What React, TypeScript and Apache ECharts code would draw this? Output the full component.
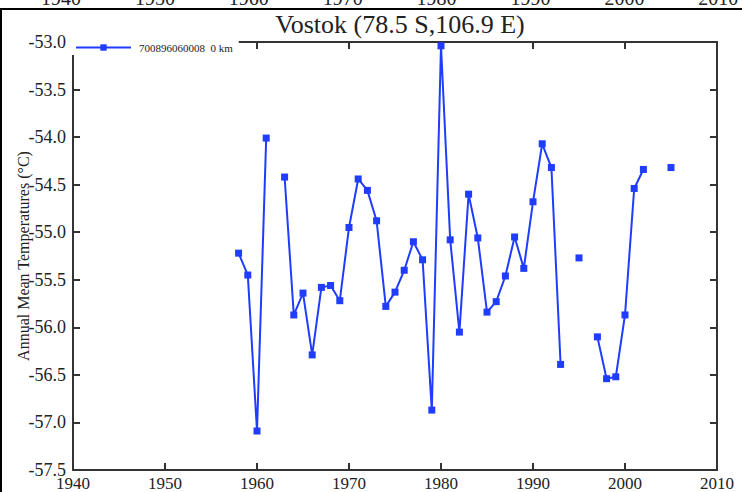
import React, { useEffect, useRef } from "react";
import * as echarts from "echarts";

const seriesName = "700896060008  0 km";
const years = [
  1958, 1959, 1960, 1961, 1962, 1963, 1964, 1965, 1966, 1967, 1968, 1969,
  1970, 1971, 1972, 1973, 1974, 1975, 1976, 1977, 1978, 1979, 1980, 1981,
  1982, 1983, 1984, 1985, 1986, 1987, 1988, 1989, 1990, 1991, 1992, 1993,
  1994, 1995, 1996, 1997, 1998, 1999, 2000, 2001, 2002, 2003, 2004, 2005,
];
const temperatures: (number | null)[] = [
  -55.22, -55.45, -57.09, -54.01, null, -54.42, -55.87, -55.64, -56.29, -55.58, -55.56, -55.72,
  -54.95, -54.44, -54.56, -54.88, -55.78, -55.63, -55.4, -55.1, -55.29, -56.87, -53.04, -55.08,
  -56.05, -54.6, -55.06, -55.84, -55.73, -55.46, -55.05, -55.38, -54.68, -54.07, -54.32, -56.39,
  null, -55.27, null, -56.1, -56.54, -56.52, -55.87, -54.54, -54.34, null, null, -54.32,
];
const topTickLabels = ["1940", "1950", "1960", "1970", "1980", "1990", "2000", "2010"];

const FONT = "Liberation Serif";
const AXIS = "#333333";
const BLUE = "#1f3cff";

export default function App() {
  const ref = useRef<HTMLDivElement>(null);
  useEffect(() => {
    if (!ref.current) return;
    const chart = echarts.init(ref.current, null, { renderer: "svg" });
    const data = years.map((y, i) => [y, temperatures[i] === null ? "-" : temperatures[i]]);
    const axisCommon = {
      axisLine: { show: true, lineStyle: { color: AXIS, width: 2 } },
      axisTick: { show: true, inside: true, length: 7, lineStyle: { color: AXIS, width: 2 } },
      splitLine: { show: false },
    };
    chart.setOption({
      animation: false,
      backgroundColor: "#ffffff",
      title: {
        text: "Vostok (78.5 S,106.9 E)",
        left: 395,
        top: 6,
        textAlign: "center",
        textStyle: { fontFamily: FONT, fontSize: 26, fontWeight: "normal", color: "#222" },
      },
      legend: {
        left: 72,
        top: 40,
        padding: [2, 6, 2, 3],
        backgroundColor: "#ffffff",
        itemWidth: 55,
        itemHeight: 8,
        itemGap: 8,
        textStyle: { fontFamily: FONT, fontSize: 11, color: "#222", padding: [0, 0, 0, 3] },
        data: [seriesName],
        z: 10,
      },
      grid: {
        left: 73,
        right: 25,
        top: 42,
        bottom: 22,
        containLabel: false,
        outerBoundsMode: "none",
      },
      xAxis: [
        {
          type: "value",
          min: 1940,
          max: 2010,
          interval: 10,
          position: "bottom",
          ...axisCommon,
          axisLabel: {
            fontFamily: FONT,
            fontSize: 17,
            color: "#222",
            margin: 5,
            formatter: (v: number) => String(v),
          },
        },
        {
          type: "value",
          min: 1940,
          max: 2010,
          interval: 10,
          position: "top",
          ...axisCommon,
          axisLabel: { show: false },
        },
      ],
      yAxis: [
        {
          type: "value",
          min: -57.5,
          max: -53,
          interval: 0.5,
          position: "left",
          ...axisCommon,
          axisLabel: {
            fontFamily: FONT,
            fontSize: 18,
            color: "#222",
            margin: 7,
            formatter: (v: number) => v.toFixed(1),
          },
          name: "Annual Mean Temperatures (°C)",
          nameLocation: "middle",
          nameGap: 42,
          nameMoveOverlap: false,
          nameTextStyle: { fontFamily: FONT, fontSize: 16, color: "#222" },
        },
        {
          type: "value",
          min: -57.5,
          max: -53,
          interval: 0.5,
          position: "right",
          ...axisCommon,
          axisLabel: { show: false },
        },
      ],
      graphic: [
        { type: "line", shape: { x1: 0, y1: 9, x2: 742, y2: 9 }, style: { stroke: "#000", lineWidth: 2 } },
        { type: "line", shape: { x1: 1, y1: 9, x2: 1, y2: 492 }, style: { stroke: "#000", lineWidth: 2 } },
        ...topTickLabels.map((t, i) => ({
          type: "text",
          x: 61 + i * 93.9,
          y: 8,
          style: {
            text: t,
            fontFamily: FONT,
            fontSize: 20,
            fill: "#222",
            textAlign: "center",
            textVerticalAlign: "bottom",
          },
        })),
      ],
      series: [
        {
          name: seriesName,
          type: "line",
          xAxisIndex: 0,
          yAxisIndex: 0,
          data,
          connectNulls: false,
          showSymbol: true,
          symbol: "rect",
          symbolSize: 7,
          lineStyle: { color: BLUE, width: 2 },
          itemStyle: { color: BLUE },
        },
      ],
    });
    return () => chart.dispose();
  }, []);
  return <div ref={ref} style={{ width: 742, height: 492, position: "absolute", left: 0, top: 0 }} />;
}
